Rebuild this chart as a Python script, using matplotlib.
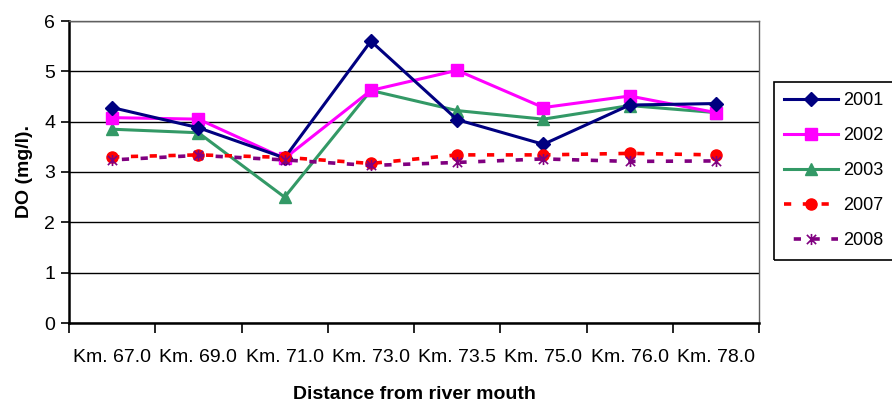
import matplotlib
matplotlib.use("Agg")
import matplotlib.pyplot as plt
import numpy as np
from matplotlib.path import Path
from matplotlib.patches import Rectangle

plt.rcParams['font.family'] = ['Liberation Sans', 'DejaVu Sans']

stations = ["Km. 67.0", "Km. 69.0", "Km. 71.0", "Km. 73.0",
            "Km. 73.5", "Km. 75.0", "Km. 76.0", "Km. 78.0"]

do_2001 = [4.28, 3.88, 3.28, 5.60, 4.04, 3.55, 4.33, 4.36]
do_2002 = [4.08, 4.05, 3.27, 4.62, 5.02, 4.28, 4.51, 4.18]
do_2003 = [3.85, 3.78, 2.50, 4.62, 4.22, 4.05, 4.32, 4.18]
do_2007 = [3.30, 3.34, 3.29, 3.17, 3.34, 3.34, 3.37, 3.34]
do_2008 = [3.24, 3.33, 3.24, 3.13, 3.19, 3.26, 3.21, 3.22]

years = ["2001", "2002", "2003", "2007", "2008"]

# asterisk-style marker: an X with a vertical bar through it
star_path = Path(
    [(-1, -1), (1, 1), (-1, 1), (1, -1), (0, -1.2), (0, 1.2)],
    [Path.MOVETO, Path.LINETO, Path.MOVETO, Path.LINETO, Path.MOVETO, Path.LINETO],
)

W, H = 892, 403
fig = plt.figure(figsize=(W / 100, H / 100), dpi=100)
ax = fig.add_axes([69 / W, 1 - 323 / H, 690 / W, 302 / H])

x = np.arange(len(stations))
dash = (2.0, 3.2)
lw = 2.2

ax.plot(x, do_2001, color="#000080", lw=lw, marker="D", ms=7,
        label=years[0], zorder=5)
ax.plot(x, do_2002, color="#FF00FF", lw=lw, marker="s", ms=8,
        label=years[1], zorder=4)
ax.plot(x, do_2003, color="#339966", lw=lw, marker="^", ms=9,
        label=years[2], zorder=3)
ax.plot(x, do_2007, color="#FF0000", lw=2.6, ls=(0, dash), marker="o", ms=8,
        label=years[3], zorder=6)
ax.plot(x, do_2008, color="#800080", lw=2.6, ls=(2.5, dash), marker=star_path,
        ms=8, mew=1.2, label=years[4], zorder=7)

ax.set_xlim(-0.5, len(stations) - 0.5)
ax.set_ylim(0, 6)
ax.set_yticks(range(0, 7))
ax.yaxis.grid(True, color="black", lw=1)
ax.set_axisbelow(True)

# category labels centred, tick marks at category boundaries
ax.set_xticks(x)
ax.set_xticklabels(stations, fontsize=14)
ax.set_xticks(np.arange(-0.5, len(stations)), minor=True)
ax.tick_params(axis="x", which="major", length=0, pad=19)
ax.tick_params(axis="x", which="minor", length=7, width=1.2, direction="out")
ax.tick_params(axis="y", length=6, width=1.2, direction="out", labelsize=14, pad=4)

for side in ["left", "bottom"]:
    ax.spines[side].set_linewidth(1.8)
for side in ["top", "right"]:
    ax.spines[side].set_linewidth(1.0)
    ax.spines[side].set_color("#606060")

ax.set_ylabel("DO (mg/l).", fontsize=14, fontweight="bold", labelpad=8)
ax.set_xlabel("Distance from river mouth", fontsize=14, fontweight="bold",
              labelpad=14)

# legend box runs off the right edge of the figure
box_left, box_top, box_bottom = 774, 82, 260
fig.patches.append(Rectangle((box_left / W, 1 - box_bottom / H),
                             (W + 20 - box_left) / W, (box_bottom - box_top) / H,
                             transform=fig.transFigure, fill=False,
                             edgecolor="black", lw=1.2, zorder=10))

fig.legend(loc="upper left", bbox_to_anchor=(box_left / W, 1 - box_top / H),
           borderaxespad=0, fontsize=13, frameon=False,
           handlelength=3.0, labelspacing=1.0,
           handletextpad=0.3, borderpad=0.55)

fig.savefig("out.png", dpi=100)
